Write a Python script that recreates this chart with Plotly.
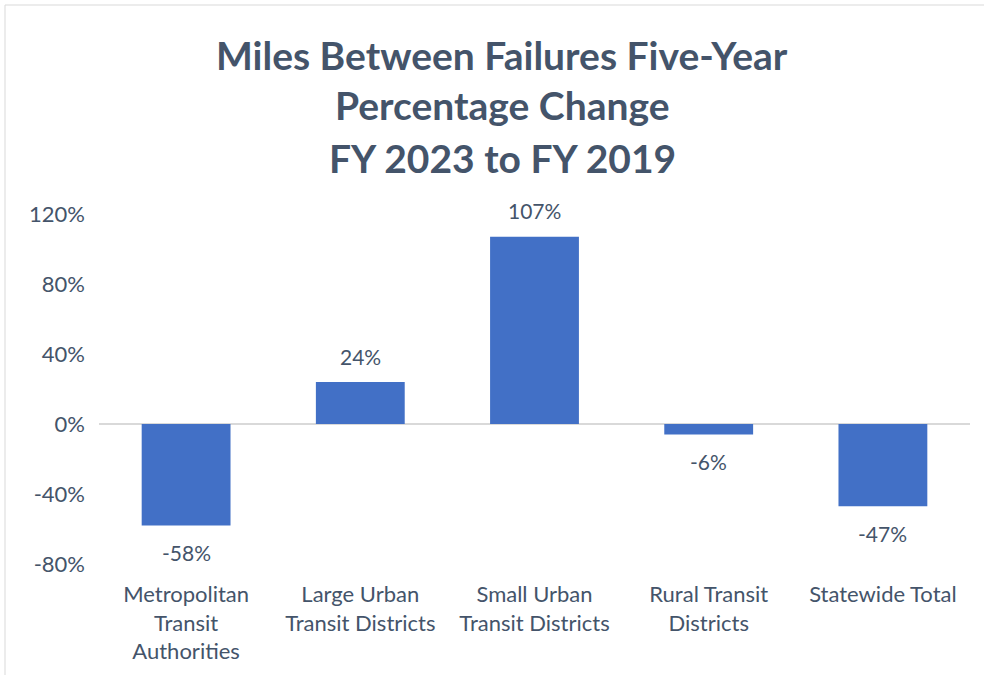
import plotly.graph_objects as go

categories = [
    "Metropolitan<br>Transit<br>Authorities",
    "Large Urban<br>Transit Districts",
    "Small Urban<br>Transit Districts",
    "Rural Transit<br>Districts",
    "Statewide Total",
]
pct_change = [-0.58, 0.24, 1.07, -0.06, -0.47]
tick_values = [-0.8, -0.4, 0, 0.4, 0.8, 1.2]
tick_labels = ["-80%", "-40%", "0%", "40%", "80%", "120%"]
title_lines = ["Miles Between Failures Five-Year", "Percentage Change", "FY 2023 to FY 2019"]

TEXT = "#44546A"
FONT = "Lato"

fig = go.Figure()
fig.add_trace(go.Bar(
    x=categories,
    y=pct_change,
    marker=dict(color="#4270C6", line=dict(width=0)),
    cliponaxis=False,
))

W, H = 984, 675
L, R, T, B = 99, 14, 214, 111
ph = H - T - B
pw = W - L - R

annotations = []
for line, ycen in zip(title_lines, [55, 105, 158]):
    annotations.append(dict(
        text=f"<b>{line}</b>", xref="paper", yref="paper",
        x=(502 - L) / pw, y=1 + (T - ycen) / ph,
        xanchor="center", yanchor="middle", showarrow=False,
        font=dict(family=FONT, size=39, color=TEXT),
    ))
for c, v in zip(categories, pct_change):
    annotations.append(dict(
        text=f"{v:.0%}", x=c, y=v, xref="x", yref="y",
        xanchor="center", yanchor="middle", showarrow=False,
        yshift=26 if v >= 0 else -27,
        font=dict(family=FONT, size=21, color=TEXT),
    ))

fig.update_layout(
    width=W, height=H,
    margin=dict(l=L, r=R, t=T, b=B),
    paper_bgcolor="white", plot_bgcolor="white",
    showlegend=False,
    bargap=0.49,
    annotations=annotations,
    font=dict(family=FONT, size=22, color=TEXT),
    shapes=[dict(type="rect", xref="paper", yref="paper",
                 x0=(5 - L) / pw, x1=(995 - L) / pw,
                 y0=-(685 - (H - B)) / ph, y1=1 + (T - 5) / ph,
                 line=dict(color="#D9D9D9", width=1), layer="below")],
)
fig.update_xaxes(
    showgrid=False, showline=False, ticks="", ticklabelstandoff=15,
    tickfont=dict(family=FONT, size=22, color=TEXT),
)
fig.update_yaxes(
    range=[-0.8, 1.2], tickvals=tick_values, ticktext=tick_labels,
    showgrid=False, zeroline=True, zerolinecolor="#D9D9D9", zerolinewidth=2,
    showline=False, ticks="", ticklabelstandoff=13,
    tickfont=dict(family=FONT, size=22, color=TEXT),
)

fig.write_html("out.html", config={"displayModeBar": False},
               post_script="document.body.style.margin='0';")
